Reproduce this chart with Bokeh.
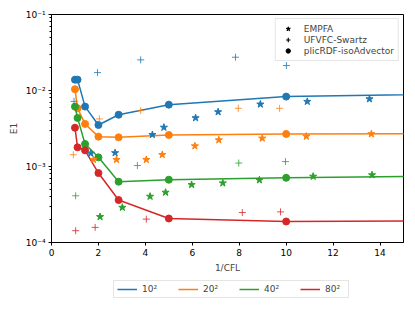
from bokeh.plotting import figure
from bokeh.layouts import column
from bokeh.models import Range1d, Legend, LegendItem, CustomJSTickFormatter, FixedTicker
from bokeh.embed import file_html
from bokeh.resources import INLINE

# ---- data ----
series_labels = ["10²", "20²", "40²", "80²"]
colors = ["#1f77b4", "#ff7f0e", "#2ca02c", "#d62728"]

x_plic = [1.0, 1.11, 1.43, 2.0, 2.86, 5.0, 10.0, 20.0]
e1_plic_10 = [0.0139, 0.0139, 0.00614, 0.00352, 0.0048, 0.00651, 0.00831, 0.0093]
e1_plic_20 = [0.0104, 0.00583, 0.00363, 0.00247, 0.00242, 0.0026, 0.00268, 0.00272]
e1_plic_40 = [0.00614, 0.00436, 0.00198, 0.00132, 0.000631, 0.00067, 0.00071, 0.00077]
e1_plic_80 = [0.00324, 0.00179, 0.00163, 0.00082, 0.000362, 0.000207, 0.000189, 0.000196]

x_empfa_10 = [1.67, 2.71, 4.3, 4.79, 6.14, 7.1, 8.9, 10.9, 13.55]
e1_empfa_10 = [0.00149, 0.00151, 0.00262, 0.00327, 0.00436, 0.00522, 0.00659, 0.00715, 0.00774]
x_empfa_20 = [1.79, 2.77, 4.04, 4.72, 6.11, 7.13, 8.98, 10.86, 13.63]
e1_empfa_20 = [0.00123, 0.00123, 0.00123, 0.00143, 0.00186, 0.00223, 0.00235, 0.00249, 0.00268]
x_empfa_40 = [2.07, 3.02, 4.2, 4.86, 5.97, 7.3, 8.86, 11.15, 13.66]
e1_empfa_40 = [0.000218, 0.000289, 0.000404, 0.000456, 0.000576, 0.000605, 0.000664, 0.000741, 0.000773]

x_ufvfc_10 = [0.96, 1.96, 3.8, 7.84, 10.01]
e1_ufvfc_10 = [0.0072, 0.0172, 0.0253, 0.0274, 0.0213]
x_ufvfc_20 = [0.93, 2.04, 3.8, 7.96, 9.72]
e1_ufvfc_20 = [0.00143, 0.00423, 0.00543, 0.00583, 0.00583]
x_ufvfc_40 = [1.03, 3.66, 7.98, 9.97]
e1_ufvfc_40 = [0.000412, 0.00103, 0.00111, 0.00116]
x_ufvfc_80 = [1.03, 1.86, 4.04, 8.13, 9.76]
e1_ufvfc_80 = [0.000143, 0.000158, 0.000203, 0.000248, 0.000253]

x_ticks = [0, 2, 4, 6, 8, 10, 12, 14]
y_ticks = [1e-4, 1e-3, 1e-2, 1e-1]

plic = [e1_plic_10, e1_plic_20, e1_plic_40, e1_plic_80]
empfa = [(x_empfa_10, e1_empfa_10), (x_empfa_20, e1_empfa_20), (x_empfa_40, e1_empfa_40)]
ufvfc = [(x_ufvfc_10, e1_ufvfc_10), (x_ufvfc_20, e1_ufvfc_20), (x_ufvfc_40, e1_ufvfc_40), (x_ufvfc_80, e1_ufvfc_80)]

FONT = "DejaVu Sans"
FS = "9px"

p = figure(width=415, height=276, y_axis_type="log",
           x_range=Range1d(0, 15), y_range=Range1d(1e-4, 1e-1),
           output_backend="svg", toolbar_location=None,
           min_border_left=51, min_border_right=12, min_border_top=14, min_border_bottom=34)
p.grid.visible = False
p.outline_line_color = "black"
p.outline_line_width = 1

# lines + circles
for c, ys in zip(colors, plic):
    p.line(x_plic, ys, color=c, line_width=1.5)
    p.scatter(x_plic, ys, marker="circle", size=7, color=c)

for c, (xs, ys) in zip(colors, empfa):
    p.scatter(xs, ys, marker="star", size=7.5, color=c)

for c, (xs, ys) in zip(colors, ufvfc):
    p.scatter(xs, ys, marker="cross", size=7, line_color=c, line_width=1, line_alpha=0.8)

# black legend-only renderers (their single point lies beyond the visible x range)
lx, ly = [x_plic[-1]], [e1_plic_10[-1]]
r_star = p.scatter(lx, ly, marker="star", size=9, color="black")
r_cross = p.scatter(lx, ly, marker="cross", size=8, line_color="black", line_width=1.2)
r_circ = p.scatter(lx, ly, marker="circle", size=8, color="black")

leg1 = Legend(items=[LegendItem(label="EMPFA", renderers=[r_star]),
                     LegendItem(label="UFVFC-Swartz", renderers=[r_cross]),
                     LegendItem(label="plicRDF-isoAdvector", renderers=[r_circ])],
              location="top_right", margin=4, padding=4, spacing=0,
              glyph_width=16, glyph_height=11, label_height=11, label_standoff=8,
              label_text_font=FONT, label_text_font_size=FS,
              border_line_color="#cccccc", background_fill_alpha=0.8)
p.add_layout(leg1, "center")

# axes
p.xaxis.ticker = FixedTicker(ticks=x_ticks)
p.xaxis.axis_label = "1/CFL"
p.yaxis.axis_label = "E1"
p.yaxis.ticker = FixedTicker(ticks=y_ticks, minor_ticks=[m * 10.0 ** e for e in range(-4, -1) for m in range(2, 10)])
p.yaxis.formatter = CustomJSTickFormatter(code="""
const sup = {'-':'\u207b','0':'\u2070','1':'\u00b9','2':'\u00b2','3':'\u00b3','4':'\u2074','5':'\u2075','6':'\u2076','7':'\u2077','8':'\u2078','9':'\u2079'};
const e = Math.round(Math.log10(tick));
return '10' + String(e).split('').map(c => sup[c]).join('');
""")
for ax in (p.xaxis, p.yaxis):
    ax.major_tick_in = 0
    ax.major_tick_out = 3
    ax.minor_tick_in = 0
    ax.minor_tick_out = 2
    ax.major_label_standoff = 3
    ax.axis_label_standoff = 4
    ax.axis_line_color = "black"
    ax.major_tick_line_color = "black"
    ax.minor_tick_line_color = "black"
    ax.major_label_text_font = FONT
    ax.major_label_text_font_size = FS
    ax.axis_label_text_font = FONT
    ax.axis_label_text_font_size = FS
    ax.axis_label_text_font_style = "normal"
    ax.major_label_text_color = "black"
p.xaxis.minor_tick_line_color = None

# ---- second strip holding the horizontal series legend ----
p2 = figure(width=415, height=35, x_range=Range1d(-10, -9), y_range=Range1d(0, 1),
            output_backend="svg", toolbar_location=None,
            x_axis_location=None, y_axis_location=None,
            min_border_left=0, min_border_right=0, min_border_top=0, min_border_bottom=0)
p2.grid.visible = False
p2.outline_line_color = None
line_renderers = [p2.line(x_plic, ys, color=c, line_width=1.5) for c, ys in zip(colors, plic)]
leg2 = Legend(items=[LegendItem(label=l, renderers=[r]) for l, r in zip(series_labels, line_renderers)],
              orientation="horizontal", location=(62, 13), margin=0, padding=3, spacing=16,
              glyph_width=20, glyph_height=10, label_height=10, label_standoff=5,
              label_text_font=FONT, label_text_font_size=FS,
              border_line_color="#cccccc", background_fill_alpha=0.8)
p2.add_layout(leg2, "center")

layout = column(p, p2, spacing=0)
open("out.html", "w").write(file_html(layout, INLINE))
